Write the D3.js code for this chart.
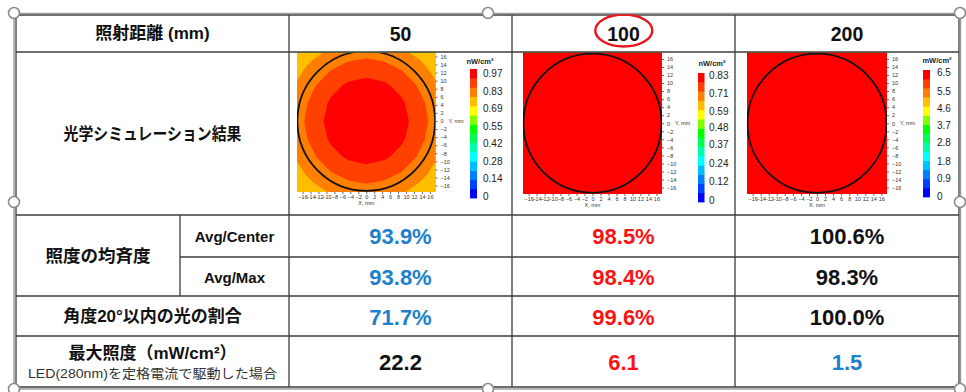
<!DOCTYPE html>
<html>
<head>
<meta charset="utf-8">
<script src="https://cdn.jsdelivr.net/npm/d3@7"></script>
<style>
  body { margin: 0; background: #fff; }
  text { font-family: "Liberation Sans", "Noto Sans CJK JP", sans-serif; }
</style>
</head>
<body>
<svg id="chart" width="966" height="392"></svg>
<script>
// ---- data ----
const distances = ["50", "100", "200"];
const avgCenter = ["93.9%", "98.5%", "100.6%"];
const avgMax = ["93.8%", "98.4%", "98.3%"];
const within20 = ["71.7%", "99.6%", "100.0%"];
const maxIrradiance = ["22.2", "6.1", "1.5"];

const barMax = [0.97, 0.83, 6.5];
const barLabels = [
  [0, 0.14, 0.28, 0.42, 0.55, 0.69, 0.83, 0.97],
  [0, 0.12, 0.24, 0.37, 0.48, 0.59, 0.71, 0.83],
  [0, 0.9, 1.8, 2.8, 3.7, 4.6, 5.5, 6.5]
];
const barUnits = ["nW/cm²", "nW/cm²", "mW/cm²"];
const axisTicks = [-16, -14, -12, -10, -8, -6, -4, -2, 0, 2, 4, 6, 8, 10, 12, 14, 16];

// sample positions (mm) of the simulated irradiance grids, rows run +y -> -y
const gridPos = [-17.8, -13.35, -8.9, -4.45, 0, 4.45, 8.9, 13.35, 17.8];
const grid50 = [
  [0.700, 0.737, 0.766, 0.789, 0.797, 0.789, 0.766, 0.737, 0.700],
  [0.737, 0.781, 0.822, 0.851, 0.866, 0.851, 0.822, 0.781, 0.737],
  [0.766, 0.822, 0.877, 0.912, 0.925, 0.912, 0.877, 0.822, 0.766],
  [0.789, 0.851, 0.912, 0.945, 0.955, 0.945, 0.912, 0.851, 0.789],
  [0.797, 0.866, 0.925, 0.955, 0.965, 0.955, 0.925, 0.866, 0.797],
  [0.789, 0.851, 0.912, 0.945, 0.955, 0.945, 0.912, 0.851, 0.789],
  [0.766, 0.822, 0.877, 0.912, 0.925, 0.912, 0.877, 0.822, 0.766],
  [0.737, 0.781, 0.822, 0.851, 0.866, 0.851, 0.822, 0.781, 0.737],
  [0.700, 0.737, 0.766, 0.789, 0.797, 0.789, 0.766, 0.737, 0.700]
];
const grid100 = [
  [0.80, 0.81, 0.81, 0.81, 0.81, 0.81, 0.81, 0.81, 0.80],
  [0.81, 0.81, 0.82, 0.82, 0.82, 0.82, 0.82, 0.81, 0.81],
  [0.81, 0.82, 0.82, 0.82, 0.82, 0.82, 0.82, 0.82, 0.81],
  [0.81, 0.82, 0.82, 0.83, 0.83, 0.83, 0.82, 0.82, 0.81],
  [0.81, 0.82, 0.82, 0.83, 0.83, 0.83, 0.82, 0.82, 0.81],
  [0.81, 0.82, 0.82, 0.83, 0.83, 0.83, 0.82, 0.82, 0.81],
  [0.81, 0.82, 0.82, 0.82, 0.82, 0.82, 0.82, 0.82, 0.81],
  [0.81, 0.81, 0.82, 0.82, 0.82, 0.82, 0.82, 0.81, 0.81],
  [0.80, 0.81, 0.81, 0.81, 0.81, 0.81, 0.81, 0.81, 0.80]
];
const grid200 = [
  [6.30, 6.35, 6.38, 6.40, 6.40, 6.40, 6.38, 6.35, 6.30],
  [6.35, 6.40, 6.42, 6.44, 6.45, 6.44, 6.42, 6.40, 6.35],
  [6.38, 6.42, 6.45, 6.47, 6.48, 6.47, 6.45, 6.42, 6.38],
  [6.40, 6.44, 6.47, 6.49, 6.50, 6.49, 6.47, 6.44, 6.40],
  [6.40, 6.45, 6.48, 6.50, 6.50, 6.50, 6.48, 6.45, 6.40],
  [6.40, 6.44, 6.47, 6.49, 6.50, 6.49, 6.47, 6.44, 6.40],
  [6.38, 6.42, 6.45, 6.47, 6.48, 6.47, 6.45, 6.42, 6.38],
  [6.35, 6.40, 6.42, 6.44, 6.45, 6.44, 6.42, 6.40, 6.35],
  [6.30, 6.35, 6.38, 6.40, 6.40, 6.40, 6.38, 6.35, 6.30]
];
const grids = [grid50, grid100, grid200];

// ---- style / layout ----
const bandColors = ["#0000ff", "#0040ff", "#0080ff", "#00bfff", "#00ffff", "#00ffaa", "#00ff55",
  "#00ff00", "#80ff00", "#ffff00", "#ffbf00", "#ff8000", "#ff4000", "#ff0000"];
const BLUE = "#1e80cc", RED = "#f81414", BLACK = "#111";
const colorsFor = {
  avgCenter: [BLUE, RED, BLACK],
  avgMax: [BLUE, RED, BLACK],
  within20: [BLUE, RED, BLACK],
  maxIrradiance: [BLACK, RED, BLUE]
};

const cols = [16, 180, 289, 512, 735, 959];
const rows = [15, 52, 215, 257, 296, 336, 387];
const lineColor = "#3c3c3c";

const plots = [
  { x0: 297, x1: 435.5, y0: 50, y1: 192,
    cb: { x: 470, w: 7, y0: 69, y1: 198, lx: 483, lt: 73.3, lb: 196.7, tx: 480, ty: 61 } },
  { x0: 523, x1: 662, y0: 52.5, y1: 194,
    cb: { x: 698, w: 6.5, y0: 73, y1: 202, lx: 709, lt: 75, lb: 200, tx: 712, ty: 63.5 } },
  { x0: 747, x1: 887, y0: 52.5, y1: 194,
    cb: { x: 923, w: 7, y0: 70, y1: 197, lx: 937, lt: 72.7, lb: 196, tx: 937, ty: 60.5 } }
];
const circleR = 17.3;

const svg = d3.select("#chart");
const defs = svg.append("defs");

// ---- heatmaps ----
plots.forEach((p, i) => {
  const xs = d3.scaleLinear().domain([-17.4, 17.4]).range([p.x0, p.x1]);
  const ys = d3.scaleLinear().domain([-17.6, 17.6]).range([p.y1, p.y0]);
  const max = barMax[i];
  const nBands = bandColors.length;
  const thresholds = d3.range(nBands).map(k => max * k / nBands);
  const grid = grids[i];
  const n = gridPos.length;
  const step = gridPos[1] - gridPos[0];

  const clipId = "clip" + i;
  const top = Math.max(p.y0, rows[1] + 0.7);
  defs.append("clipPath").attr("id", clipId)
    .append("rect").attr("x", p.x0).attr("y", top)
    .attr("width", p.x1 - p.x0).attr("height", p.y1 - top);

  const contours = d3.contours().size([n, n]).thresholds(thresholds)(grid.flat());
  const proj = d3.geoTransform({
    point: function(gx, gy) {
      const mx = gridPos[0] + (gx - 0.5) * step;
      const my = gridPos[n - 1] - (gy - 0.5) * step;
      this.stream.point(xs(mx), ys(my));
    }
  });
  const path = d3.geoPath(proj);

  const g = svg.append("g").attr("clip-path", `url(#${clipId})`);
  g.append("rect").attr("x", p.x0).attr("y", top)
    .attr("width", p.x1 - p.x0).attr("height", p.y1 - top).attr("fill", bandColors[0]);
  g.selectAll("path.band").data(contours).join("path")
    .attr("class", "band")
    .attr("d", path)
    .attr("fill", (d, k) => bandColors[k]);
  g.append("ellipse")
    .attr("cx", xs(0)).attr("cy", ys(0))
    .attr("rx", xs(circleR) - xs(0)).attr("ry", ys(0) - ys(circleR))
    .attr("fill", "none").attr("stroke", "#111").attr("stroke-width", 1.8);

  // axes
  const yAxis = svg.append("g").attr("transform", `translate(${p.x1},0)`)
    .call(d3.axisRight(ys).tickValues(axisTicks).tickSize(2).tickPadding(3));
  yAxis.select(".domain").remove();
  yAxis.selectAll("text").attr("font-size", 5.5).attr("fill", "#333");
  yAxis.selectAll("line").attr("stroke", "#666");
  svg.append("text").attr("x", p.x1 + 13).attr("y", ys(0))
    .attr("dominant-baseline", "central").attr("font-size", 5.5).attr("fill", "#333").text("Y, mm");

  const xAxis = svg.append("g").attr("transform", `translate(0,${p.y1})`)
    .call(d3.axisBottom(xs).tickValues(axisTicks).tickSize(2).tickPadding(1));
  xAxis.select(".domain").remove();
  xAxis.selectAll("text").attr("font-size", 5.5).attr("fill", "#333");
  xAxis.selectAll("line").attr("stroke", "#666");
  svg.append("text").attr("x", xs(0)).attr("y", p.y1 + 11)
    .attr("text-anchor", "middle").attr("dominant-baseline", "central")
    .attr("font-size", 5.5).attr("fill", "#333").text("X, mm");

  // colour bar
  const cb = p.cb;
  const bs = d3.scaleLinear().domain([0, max]).range([cb.y1, cb.y0]);
  svg.append("g").selectAll("rect").data(thresholds).join("rect")
    .attr("x", cb.x).attr("width", cb.w)
    .attr("y", t => bs(t + max / nBands))
    .attr("height", bs(0) - bs(max / nBands) + 0.4)
    .attr("fill", (t, k) => bandColors[k]);
  const ls = d3.scaleLinear().domain([0, max]).range([cb.lb, cb.lt]);
  svg.append("g").selectAll("text").data(barLabels[i]).join("text")
    .attr("x", cb.lx).attr("y", v => ls(v))
    .attr("dominant-baseline", "central")
    .attr("font-size", 10).attr("fill", "#222")
    .text(v => v);
  svg.append("text").attr("x", cb.tx).attr("y", cb.ty)
    .attr("text-anchor", "middle").attr("dominant-baseline", "central")
    .attr("font-size", 7.5).attr("font-weight", "bold").attr("fill", "#222")
    .text(barUnits[i]);
});

// ---- table grid ----
const lines = svg.append("g").attr("stroke", lineColor).attr("stroke-width", 1.3);
// horizontal lines
[rows[0], rows[1], rows[2], rows[4], rows[5], rows[6]].forEach(y => {
  lines.append("line").attr("x1", cols[0]).attr("x2", cols[5]).attr("y1", y).attr("y2", y);
});
lines.append("line").attr("x1", cols[1]).attr("x2", cols[5]).attr("y1", rows[3]).attr("y2", rows[3]);
// vertical lines
[cols[0], cols[2], cols[3], cols[4], cols[5]].forEach(x => {
  lines.append("line").attr("x1", x).attr("x2", x).attr("y1", rows[0]).attr("y2", rows[6]);
});
lines.append("line").attr("x1", cols[1]).attr("x2", cols[1]).attr("y1", rows[2]).attr("y2", rows[4]);

// ---- texts ----
function label(x, y, txt, size, weight, fill, len) {
  const t = svg.append("text").attr("x", x).attr("y", y)
    .attr("text-anchor", "middle").attr("dominant-baseline", "central")
    .attr("font-size", size).attr("font-weight", weight || "bold").attr("fill", fill || "#111")
    .text(txt);
  if (len) t.attr("textLength", len).attr("lengthAdjust", "spacingAndGlyphs");
  return t;
}
const labelCx = (cols[0] + cols[2]) / 2;
label(labelCx, 33.5, "照射距離 (mm)", 17);
label(labelCx, 134, "光学シミュレーション結果", 17, "bold", "#111", 178);
label((cols[0] + cols[1]) / 2, 256, "照度の均斉度", 17.5);
label((cols[1] + cols[2]) / 2, 236.5, "Avg/Center", 15);
label((cols[1] + cols[2]) / 2, 277, "Avg/Max", 15);
label(labelCx, 316.5, "角度20°以内の光の割合", 17);
label(labelCx, 353.5, "最大照度（mW/cm²）", 17);
label(labelCx, 373.5, "LED(280nm)を定格電流で駆動した場合", 13, "normal", "#333", 249);

const colCx = [3, 4, 5].map(k => (cols[k - 1] + cols[k]) / 2);
distances.forEach((d, i) => label(colCx[i], 33.5, d, 19.5));
[[avgCenter, "avgCenter", 236.5], [avgMax, "avgMax", 277],
 [within20, "within20", 317], [maxIrradiance, "maxIrradiance", 362]].forEach(([vals, key, y]) => {
  vals.forEach((v, i) => label(colCx[i], y, v, 22, "bold", colorsFor[key][i]));
});

// red ellipse highlighting 100 mm
svg.append("ellipse").attr("cx", 623.8).attr("cy", 30.5).attr("rx", 28.5).attr("ry", 16)
  .attr("fill", "none").attr("stroke", "#e8141c").attr("stroke-width", 2.4);

// ---- selection frame with handles ----
svg.append("rect").attr("x", 14).attr("y", 13.5).attr("width", 946.5).attr("height", 375.5)
  .attr("fill", "none").attr("stroke", "#999").attr("stroke-width", 1.4);
const handles = [[14, 13], [488, 13], [960, 13], [14, 202], [960, 202], [14, 389], [488, 389], [960, 389]];
svg.append("g").selectAll("circle").data(handles).join("circle")
  .attr("cx", d => d[0]).attr("cy", d => d[1]).attr("r", 5.5)
  .attr("fill", "#fff").attr("stroke", "#888").attr("stroke-width", 1.5);
</script>
</body>
</html>
